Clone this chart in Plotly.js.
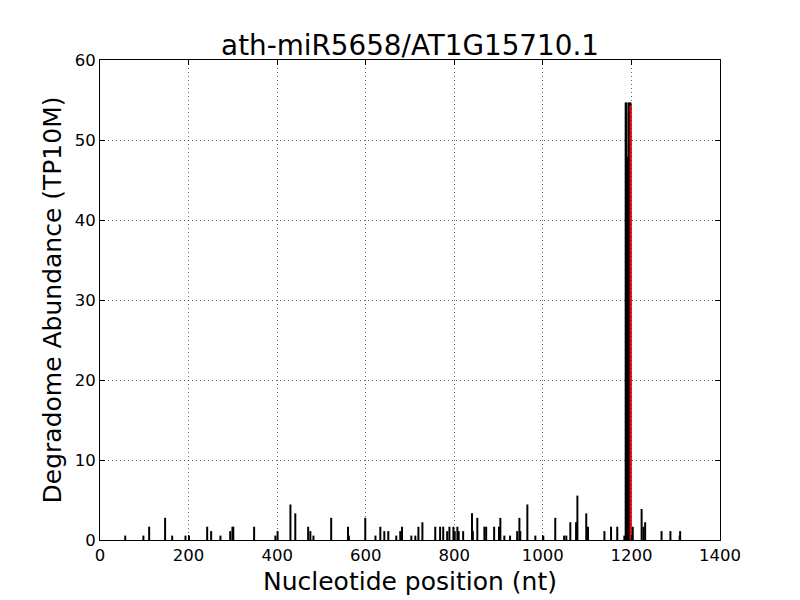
<!DOCTYPE html>
<html>
<head>
<meta charset="utf-8">
<script src="https://cdn.plot.ly/plotly-3.0.1.min.js"></script>
<style>html,body{margin:0;padding:0;background:#fff;}#chart{width:800px;height:600px;}</style>
</head>
<body>
<div id="chart"></div>
<script>
// Degradome abundance per nucleotide position (TP10M)
const positions = [57, 98, 111, 147, 163, 193, 201, 242, 251, 272, 294, 299, 301, 348, 396, 401,
  430, 441, 470, 475, 482, 522, 560, 562, 599, 622, 633, 642, 651, 669, 678, 682,
  703, 712, 719, 728, 757, 768, 775, 784, 789, 798, 801, 807, 810, 820, 840, 842,
  852, 868, 872, 890, 901, 904, 913, 926, 942, 947, 949, 965, 983, 1001, 1028,
  1048, 1053, 1062, 1075, 1078, 1098, 1102, 1139, 1154, 1168, 1184,
  1187, 1189, 1192, 1194, 1196, 1198,
  1203, 1223, 1227, 1231, 1268, 1288, 1309, 1310];
const abundance = [0.55, 0.55, 1.66, 2.77, 0.55, 0.55, 0.55, 1.66, 1.11, 0.55, 1.11, 1.66, 1.66, 1.66, 0.55, 1.11,
  4.44, 3.33, 1.66, 1.11, 0.55, 2.77, 1.66, 0.55, 2.77, 0.55, 1.66, 1.11, 1.11, 0.55, 1.11, 1.66,
  0.55, 0.55, 1.66, 2.22, 1.66, 1.66, 1.66, 1.11, 1.66, 1.66, 1.11, 1.66, 1.11, 1.11, 3.33, 1.11,
  2.77, 1.66, 1.66, 1.66, 1.66, 2.77, 0.55, 0.55, 1.11, 2.77, 1.11, 4.44, 0.55, 0.55, 2.77,
  0.55, 0.55, 2.22, 2.22, 5.55, 3.33, 1.66, 1.11, 1.66, 1.66, 0.55,
  54.7, 54.7, 47.9, 54.7, 54.7, 54.7,
  1.66, 3.88, 1.66, 2.22, 1.11, 1.11, 0.55, 1.11];
// Predicted cleavage site
const sitePosition = [1198];
const siteAbundance = [54.3];

const titleText = 'ath-miR5658/AT1G15710.1';
const xTitle = 'Nucleotide position (nt)';
const yTitle = 'Degradome Abundance (TP10M)';
const xTicks = [0, 200, 400, 600, 800, 1000, 1200, 1400];
const yTicks = [0, 10, 20, 30, 40, 50, 60];

const FONT = 'DejaVu Sans, sans-serif';

const traces = [
  {type: 'bar', x: positions, y: abundance, width: 4.5,
   marker: {color: '#000000', line: {width: 0}}, hoverinfo: 'x+y', showlegend: false},
  {type: 'bar', x: sitePosition, y: siteAbundance, width: 4.5,
   marker: {color: '#ff0000', line: {width: 0}}, hoverinfo: 'x+y', showlegend: false}
];

const axisCommon = {
  showline: true, mirror: 'ticks', linecolor: '#000', linewidth: 1,
  ticks: 'inside', ticklen: 5, tickwidth: 1, tickcolor: '#000',
  showgrid: true, gridcolor: '#000', gridwidth: 0.6, griddash: '1px,3px',
  zeroline: false, tickfont: {family: FONT, size: 16.5, color: '#000'}
};

const layout = {
  width: 800, height: 600,
  margin: {l: 100, r: 80, t: 60, b: 60},
  paper_bgcolor: '#fff', plot_bgcolor: '#fff',
  barmode: 'overlay',
  font: {family: FONT, color: '#000'},
  title: {text: titleText, font: {family: FONT, size: 27.8, color: '#000'},
          xref: 'paper', x: 0.5, xanchor: 'center', yref: 'container', y: 0.925, yanchor: 'middle'},
  xaxis: Object.assign({}, axisCommon, {
    range: [0, 1400], tickmode: 'array', tickvals: xTicks, ticktext: xTicks.map(String),
    title: {text: xTitle, font: {family: FONT, size: 25, color: '#000'}, standoff: 8}
  }),
  yaxis: Object.assign({}, axisCommon, {
    range: [0, 60], tickmode: 'array', tickvals: yTicks, ticktext: yTicks.map(String),
    title: {text: yTitle, font: {family: FONT, size: 25, color: '#000'}, standoff: 5}
  })
};

Plotly.newPlot('chart', traces, layout, {staticPlot: true, displayModeBar: false});
</script>
</body>
</html>
